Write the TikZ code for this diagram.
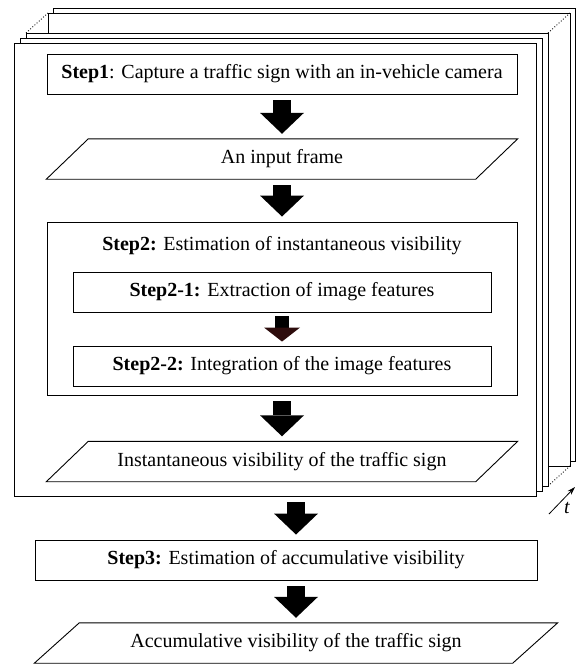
\documentclass[tikz,border=0pt]{standalone}
\usepackage{fontspec}
\setmainfont{Liberation Serif}
\usetikzlibrary{arrows.meta,calc,positioning}

\definecolor{arrhead}{RGB}{45,12,12}
\tikzset{
  stepbox/.style={draw, line width=0.9pt, minimum height=40pt, inner sep=0pt},
  databox/.style={minimum height=40pt, inner sep=0pt},
  framebox/.style={draw, fill=white, line width=0.9pt},
  bigarrow/.style={line width=18pt, shorten <=6pt, shorten >=5pt,
    -{Triangle[length=21pt,width=44pt,line width=0pt]}},
  smallarrow/.style={line width=14pt, shorten <=4pt, shorten >=4pt,
    -{Triangle[length=14pt,width=36pt,line width=0pt,color=arrhead]}}
}
% slanted data box round a named node
\newcommand\pgram[2]{\draw[line width=0.9pt] ([xshift=-#2]#1.south west) -- ([xshift=-#2]#1.south east)
  -- ([xshift=#2]#1.north east) -- ([xshift=#2]#1.north west) -- cycle;}

\begin{document}
\begin{tikzpicture}[x=1pt,y=-1pt,font=\fontsize{20}{24}\selectfont]
\useasboundingbox (0,0) rectangle (576,665);
    % stack of frames
    \draw[framebox] (53,8) rectangle (575,461);
    \draw[framebox] (48,13) rectangle (570,466);
    \draw[dotted,line width=0.9pt] (26,33) -- (48,13) (548,33) -- (570,13) (548,486) -- (570,466);
    \foreach \i in {2,1,0} {
        \draw[framebox] ({14+6*\i},{43-5*\i}) rectangle ++(522,453);
    }
    \coordinate (fbot) at (296,496);

    \node[stepbox, minimum width=470pt] (s1) at (282,74) {\textbf{Step1}: Capture a traffic sign with an in-vehicle camera};
    \node[databox, minimum width=429pt] (inp) at (282,159) {An input frame};
    \pgram{inp}{21pt}
    \node[stepbox, minimum width=470pt, minimum height=173pt] (s2) at (282,308.5) {};
    \node (s2t) at (282,246) {\textbf{Step2:} Estimation of instantaneous visibility};
    \node[stepbox, minimum width=418pt] (s21) at (282,292) {\textbf{Step2-1:} Extraction of image features};
    \node[stepbox, minimum width=418pt] (s22) at (282,366) {\textbf{Step2-2:} Integration of the image features};
    \node[databox, minimum width=429pt] (ins) at (282,461.5) {Instantaneous visibility of the traffic sign};
    \pgram{ins}{21pt}
    \node[stepbox, minimum width=502pt] (s3) at (286,560) {\textbf{Step3:} Estimation of accumulative visibility};
    \node[databox, minimum width=478pt] (acc) at (296,643) {Accumulative visibility of the traffic sign};
    \pgram{acc}{22.5pt}

    \draw[bigarrow] (s1.south) -- (inp.north);
    \draw[bigarrow] (inp.south) -- (s2.north);
    \draw[smallarrow] (s21.south) -- (s22.north);
    \draw[bigarrow] (s2.south) -- (ins.north);
    \draw[bigarrow] (fbot) -- (s3.north -| fbot);
    \draw[bigarrow] (s3.south -| fbot) -- (acc.north);

    % time axis
    \coordinate (t0) at (549,514);
    \coordinate (t1) at (575,487);
    \draw[line width=0.8pt,-{Stealth[length=8pt,width=5pt]}] (t0) -- (t1);
    \node (tl) at (567,508) {\textit{t}};
\end{tikzpicture}
\end{document}
